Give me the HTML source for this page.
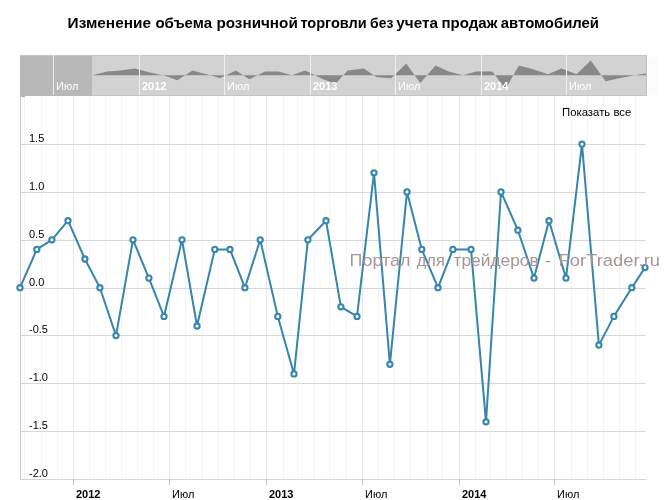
<!DOCTYPE html><html><head><meta charset="utf-8"><style>html,body{margin:0;padding:0;background:#fff;width:666px;height:500px;overflow:hidden}svg{display:block;font-family:"Liberation Sans",sans-serif;will-change:transform}</style></head><body>
<svg width="666" height="500" viewBox="0 0 666 500">
<rect x="0" y="0" width="666" height="500" fill="#fff"/>
<text x="67.6" y="28" font-size="15.4" font-weight="bold" fill="#000" textLength="83.4" lengthAdjust="spacingAndGlyphs">Изменение</text>
<text x="155.4" y="28" font-size="15.4" font-weight="bold" fill="#000" textLength="56.6" lengthAdjust="spacingAndGlyphs">объема</text>
<text x="216.4" y="28" font-size="15.4" font-weight="bold" fill="#000" textLength="81.4" lengthAdjust="spacingAndGlyphs">розничной</text>
<text x="300.4" y="28" font-size="15.4" font-weight="bold" fill="#000" textLength="66.4" lengthAdjust="spacingAndGlyphs">торговли</text>
<text x="370.1" y="28" font-size="15.4" font-weight="bold" fill="#000" textLength="23.2" lengthAdjust="spacingAndGlyphs">без</text>
<text x="396.3" y="28" font-size="15.4" font-weight="bold" fill="#000" textLength="41.6" lengthAdjust="spacingAndGlyphs">учета</text>
<text x="441.4" y="28" font-size="15.4" font-weight="bold" fill="#000" textLength="56.0" lengthAdjust="spacingAndGlyphs">продаж</text>
<text x="500.8" y="28" font-size="15.4" font-weight="bold" fill="#000" textLength="98.2" lengthAdjust="spacingAndGlyphs">автомобилей</text>
<path d="M24.5 96 V479" stroke="#f5f5f5" stroke-width="1"/>
<path d="M41.5 96 V479" stroke="#f5f5f5" stroke-width="1"/>
<path d="M57.5 96 V479" stroke="#f5f5f5" stroke-width="1"/>
<path d="M73.5 96 V479" stroke="#eaeaea" stroke-width="1"/>
<path d="M89.5 96 V479" stroke="#f5f5f5" stroke-width="1"/>
<path d="M105.5 96 V479" stroke="#f5f5f5" stroke-width="1"/>
<path d="M121.5 96 V479" stroke="#f5f5f5" stroke-width="1"/>
<path d="M137.5 96 V479" stroke="#f5f5f5" stroke-width="1"/>
<path d="M153.5 96 V479" stroke="#f5f5f5" stroke-width="1"/>
<path d="M169.5 96 V479" stroke="#eaeaea" stroke-width="1"/>
<path d="M185.5 96 V479" stroke="#f5f5f5" stroke-width="1"/>
<path d="M202.5 96 V479" stroke="#f5f5f5" stroke-width="1"/>
<path d="M218.5 96 V479" stroke="#f5f5f5" stroke-width="1"/>
<path d="M234.5 96 V479" stroke="#f5f5f5" stroke-width="1"/>
<path d="M250.5 96 V479" stroke="#f5f5f5" stroke-width="1"/>
<path d="M266.5 96 V479" stroke="#eaeaea" stroke-width="1"/>
<path d="M283.5 96 V479" stroke="#f5f5f5" stroke-width="1"/>
<path d="M297.5 96 V479" stroke="#f5f5f5" stroke-width="1"/>
<path d="M314.5 96 V479" stroke="#f5f5f5" stroke-width="1"/>
<path d="M329.5 96 V479" stroke="#f5f5f5" stroke-width="1"/>
<path d="M346.5 96 V479" stroke="#f5f5f5" stroke-width="1"/>
<path d="M362.5 96 V479" stroke="#eaeaea" stroke-width="1"/>
<path d="M378.5 96 V479" stroke="#f5f5f5" stroke-width="1"/>
<path d="M394.5 96 V479" stroke="#f5f5f5" stroke-width="1"/>
<path d="M410.5 96 V479" stroke="#f5f5f5" stroke-width="1"/>
<path d="M427.5 96 V479" stroke="#f5f5f5" stroke-width="1"/>
<path d="M442.5 96 V479" stroke="#f5f5f5" stroke-width="1"/>
<path d="M459.5 96 V479" stroke="#eaeaea" stroke-width="1"/>
<path d="M475.5 96 V479" stroke="#f5f5f5" stroke-width="1"/>
<path d="M490.5 96 V479" stroke="#f5f5f5" stroke-width="1"/>
<path d="M506.5 96 V479" stroke="#f5f5f5" stroke-width="1"/>
<path d="M522.5 96 V479" stroke="#f5f5f5" stroke-width="1"/>
<path d="M538.5 96 V479" stroke="#f5f5f5" stroke-width="1"/>
<path d="M554.5 96 V479" stroke="#eaeaea" stroke-width="1"/>
<path d="M571.5 96 V479" stroke="#f5f5f5" stroke-width="1"/>
<path d="M587.5 96 V479" stroke="#f5f5f5" stroke-width="1"/>
<path d="M603.5 96 V479" stroke="#f5f5f5" stroke-width="1"/>
<path d="M619.5 96 V479" stroke="#f5f5f5" stroke-width="1"/>
<path d="M635.5 96 V479" stroke="#f5f5f5" stroke-width="1"/>
<path d="M20 479.5 H646" stroke="#d8d8d8" stroke-width="1"/>
<path d="M20 431.5 H646" stroke="#d8d8d8" stroke-width="1"/>
<path d="M20 383.5 H646" stroke="#d8d8d8" stroke-width="1"/>
<path d="M20 335.5 H646" stroke="#d8d8d8" stroke-width="1"/>
<path d="M20 288.5 H646" stroke="#d8d8d8" stroke-width="1"/>
<path d="M20 240.5 H646" stroke="#d8d8d8" stroke-width="1"/>
<path d="M20 192.5 H646" stroke="#d8d8d8" stroke-width="1"/>
<path d="M20 144.5 H646" stroke="#d8d8d8" stroke-width="1"/>
<path d="M20.5 96 V480" stroke="#c8c8c8" stroke-width="1"/>
<path d="M20 479.5 H646" stroke="#d4d4d4" stroke-width="1"/>
<path d="M73.5 479 V485" stroke="#c0c0c0" stroke-width="1"/>
<text x="76.0" y="498" font-size="11" font-weight="bold" fill="#000">2012</text>
<path d="M169.5 479 V485" stroke="#c0c0c0" stroke-width="1"/>
<text x="172.0" y="498" font-size="11" fill="#000">Июл</text>
<path d="M266.5 479 V485" stroke="#c0c0c0" stroke-width="1"/>
<text x="269.0" y="498" font-size="11" font-weight="bold" fill="#000">2013</text>
<path d="M362.5 479 V485" stroke="#c0c0c0" stroke-width="1"/>
<text x="365.0" y="498" font-size="11" fill="#000">Июл</text>
<path d="M459.5 479 V485" stroke="#c0c0c0" stroke-width="1"/>
<text x="462.0" y="498" font-size="11" font-weight="bold" fill="#000">2014</text>
<path d="M554.5 479 V485" stroke="#c0c0c0" stroke-width="1"/>
<text x="557.0" y="498" font-size="11" fill="#000">Июл</text>
<text x="29" y="477.0" font-size="11" fill="#000">-2.0</text>
<text x="29" y="429.0" font-size="11" fill="#000">-1.5</text>
<text x="29" y="381.0" font-size="11" fill="#000">-1.0</text>
<text x="29" y="333.0" font-size="11" fill="#000">-0.5</text>
<text x="29" y="286.0" font-size="11" fill="#000">0.0</text>
<text x="29" y="238.0" font-size="11" fill="#000">0.5</text>
<text x="29" y="190.0" font-size="11" fill="#000">1.0</text>
<text x="29" y="142.0" font-size="11" fill="#000">1.5</text>
<rect x="20" y="55" width="626" height="40" fill="#d2d2d2"/>
<rect x="20" y="55" width="72" height="41" fill="#b8b8b8"/>
<path d="M92.3 75.3 L92.3 75.3 L107.2 71.4 L120.6 70.4 L134.9 68.4 L149.9 72.4 L163.2 75.3 L177.4 80.2 L192.5 70.4 L206.6 74.3 L220.0 78.2 L236.0 70.4 L249.3 79.2 L265.1 71.4 L278.5 71.4 L291.8 75.3 L305.3 70.4 L320.9 78.2 L335.3 84.1 L347.6 70.4 L363.7 68.4 L376.9 77.3 L391.2 78.2 L406.2 63.5 L420.3 83.1 L435.5 65.5 L448.6 71.4 L463.0 75.3 L476.2 71.4 L492.3 71.4 L505.6 89.0 L518.9 65.5 L533.9 69.4 L548.1 74.3 L561.4 68.4 L576.5 74.3 L590.7 60.6 L605.7 81.2 L619.0 78.2 L634.9 75.3 L646.6 73.2 L646.6 75.3 Z" fill="#888888" stroke="none"/>
<path d="M20 55.5 H646" stroke="#c4c4c4" stroke-width="1"/>
<path d="M92 95.5 H646" stroke="#c4c4c4" stroke-width="1"/>
<path d="M646.5 55 V96" stroke="#c0c0c0" stroke-width="1"/>
<rect x="648" y="57" width="10" height="38" fill="#fcfcfc"/>
<path d="M21 96.5 H25" stroke="#b0b0b0" stroke-width="1"/>
<path d="M53.5 55 V95" stroke="#efefef" stroke-width="1"/>
<text x="56.0" y="90" font-size="11" fill="#fff">Июл</text>
<path d="M139.5 55 V95" stroke="#efefef" stroke-width="1"/>
<text x="142.0" y="90" font-size="11" font-weight="bold" fill="#fff">2012</text>
<path d="M224.5 55 V95" stroke="#efefef" stroke-width="1"/>
<text x="227.0" y="90" font-size="11" fill="#fff">Июл</text>
<path d="M310.5 55 V95" stroke="#efefef" stroke-width="1"/>
<text x="313.0" y="90" font-size="11" font-weight="bold" fill="#fff">2013</text>
<path d="M395.5 55 V95" stroke="#efefef" stroke-width="1"/>
<text x="398.0" y="90" font-size="11" fill="#fff">Июл</text>
<path d="M481.5 55 V95" stroke="#efefef" stroke-width="1"/>
<text x="484.0" y="90" font-size="11" font-weight="bold" fill="#fff">2014</text>
<path d="M566.5 55 V95" stroke="#efefef" stroke-width="1"/>
<text x="569.0" y="90" font-size="11" fill="#fff">Июл</text>
<path d="M20.0 287.7 L36.8 249.4 L51.9 239.8 L68.0 220.7 L84.9 259.0 L99.9 287.7 L116.0 335.6 L133.0 239.8 L148.9 278.1 L164.0 316.4 L182.0 239.8 L197.0 326.0 L214.8 249.4 L230.0 249.4 L244.9 287.7 L260.2 239.8 L277.8 316.4 L294.0 373.9 L307.9 239.8 L326.0 220.7 L340.9 306.8 L357.0 316.4 L374.0 172.8 L389.9 364.3 L407.0 191.9 L421.8 249.4 L438.0 287.7 L452.9 249.4 L471.0 249.4 L486.0 421.8 L501.0 191.9 L517.9 230.2 L534.0 278.1 L549.0 220.7 L566.0 278.1 L582.0 144.1 L598.9 345.1 L613.9 316.4 L631.8 287.7 L645.0 267.6" fill="none" stroke="#3585ae" stroke-width="2" stroke-linejoin="round"/>
<circle cx="20.0" cy="287.7" r="2.6" fill="#fff" stroke="#3585ae" stroke-width="2.1"/>
<circle cx="36.8" cy="249.4" r="2.6" fill="#fff" stroke="#3585ae" stroke-width="2.1"/>
<circle cx="51.9" cy="239.8" r="2.6" fill="#fff" stroke="#3585ae" stroke-width="2.1"/>
<circle cx="68.0" cy="220.7" r="2.6" fill="#fff" stroke="#3585ae" stroke-width="2.1"/>
<circle cx="84.9" cy="259.0" r="2.6" fill="#fff" stroke="#3585ae" stroke-width="2.1"/>
<circle cx="99.9" cy="287.7" r="2.6" fill="#fff" stroke="#3585ae" stroke-width="2.1"/>
<circle cx="116.0" cy="335.6" r="2.6" fill="#fff" stroke="#3585ae" stroke-width="2.1"/>
<circle cx="133.0" cy="239.8" r="2.6" fill="#fff" stroke="#3585ae" stroke-width="2.1"/>
<circle cx="148.9" cy="278.1" r="2.6" fill="#fff" stroke="#3585ae" stroke-width="2.1"/>
<circle cx="164.0" cy="316.4" r="2.6" fill="#fff" stroke="#3585ae" stroke-width="2.1"/>
<circle cx="182.0" cy="239.8" r="2.6" fill="#fff" stroke="#3585ae" stroke-width="2.1"/>
<circle cx="197.0" cy="326.0" r="2.6" fill="#fff" stroke="#3585ae" stroke-width="2.1"/>
<circle cx="214.8" cy="249.4" r="2.6" fill="#fff" stroke="#3585ae" stroke-width="2.1"/>
<circle cx="230.0" cy="249.4" r="2.6" fill="#fff" stroke="#3585ae" stroke-width="2.1"/>
<circle cx="244.9" cy="287.7" r="2.6" fill="#fff" stroke="#3585ae" stroke-width="2.1"/>
<circle cx="260.2" cy="239.8" r="2.6" fill="#fff" stroke="#3585ae" stroke-width="2.1"/>
<circle cx="277.8" cy="316.4" r="2.6" fill="#fff" stroke="#3585ae" stroke-width="2.1"/>
<circle cx="294.0" cy="373.9" r="2.6" fill="#fff" stroke="#3585ae" stroke-width="2.1"/>
<circle cx="307.9" cy="239.8" r="2.6" fill="#fff" stroke="#3585ae" stroke-width="2.1"/>
<circle cx="326.0" cy="220.7" r="2.6" fill="#fff" stroke="#3585ae" stroke-width="2.1"/>
<circle cx="340.9" cy="306.8" r="2.6" fill="#fff" stroke="#3585ae" stroke-width="2.1"/>
<circle cx="357.0" cy="316.4" r="2.6" fill="#fff" stroke="#3585ae" stroke-width="2.1"/>
<circle cx="374.0" cy="172.8" r="2.6" fill="#fff" stroke="#3585ae" stroke-width="2.1"/>
<circle cx="389.9" cy="364.3" r="2.6" fill="#fff" stroke="#3585ae" stroke-width="2.1"/>
<circle cx="407.0" cy="191.9" r="2.6" fill="#fff" stroke="#3585ae" stroke-width="2.1"/>
<circle cx="421.8" cy="249.4" r="2.6" fill="#fff" stroke="#3585ae" stroke-width="2.1"/>
<circle cx="438.0" cy="287.7" r="2.6" fill="#fff" stroke="#3585ae" stroke-width="2.1"/>
<circle cx="452.9" cy="249.4" r="2.6" fill="#fff" stroke="#3585ae" stroke-width="2.1"/>
<circle cx="471.0" cy="249.4" r="2.6" fill="#fff" stroke="#3585ae" stroke-width="2.1"/>
<circle cx="486.0" cy="421.8" r="2.6" fill="#fff" stroke="#3585ae" stroke-width="2.1"/>
<circle cx="501.0" cy="191.9" r="2.6" fill="#fff" stroke="#3585ae" stroke-width="2.1"/>
<circle cx="517.9" cy="230.2" r="2.6" fill="#fff" stroke="#3585ae" stroke-width="2.1"/>
<circle cx="534.0" cy="278.1" r="2.6" fill="#fff" stroke="#3585ae" stroke-width="2.1"/>
<circle cx="549.0" cy="220.7" r="2.6" fill="#fff" stroke="#3585ae" stroke-width="2.1"/>
<circle cx="566.0" cy="278.1" r="2.6" fill="#fff" stroke="#3585ae" stroke-width="2.1"/>
<circle cx="582.0" cy="144.1" r="2.6" fill="#fff" stroke="#3585ae" stroke-width="2.1"/>
<circle cx="598.9" cy="345.1" r="2.6" fill="#fff" stroke="#3585ae" stroke-width="2.1"/>
<circle cx="613.9" cy="316.4" r="2.6" fill="#fff" stroke="#3585ae" stroke-width="2.1"/>
<circle cx="631.8" cy="287.7" r="2.6" fill="#fff" stroke="#3585ae" stroke-width="2.1"/>
<circle cx="645.0" cy="267.6" r="2.6" fill="#fff" stroke="#3585ae" stroke-width="2.1"/>
<text x="349.63" y="266" font-size="16.8" fill="#a89494" textLength="60.71" lengthAdjust="spacingAndGlyphs">Портал</text>
<text x="416.80" y="266" font-size="16.8" fill="#a89494" textLength="27.95" lengthAdjust="spacingAndGlyphs">для</text>
<text x="453.50" y="266" font-size="16.8" fill="#a89494" textLength="85.15" lengthAdjust="spacingAndGlyphs">трейдеров</text>
<text x="544.92" y="266" font-size="16.8" fill="#a89494" textLength="6.01" lengthAdjust="spacingAndGlyphs">-</text>
<text x="558.50" y="266" font-size="16.8" fill="#a89494" textLength="101.60" lengthAdjust="spacingAndGlyphs">ForTrader.ru</text>
<text x="562" y="116" font-size="11" fill="#000" textLength="69.3" lengthAdjust="spacingAndGlyphs">Показать все</text>
</svg></body></html>
